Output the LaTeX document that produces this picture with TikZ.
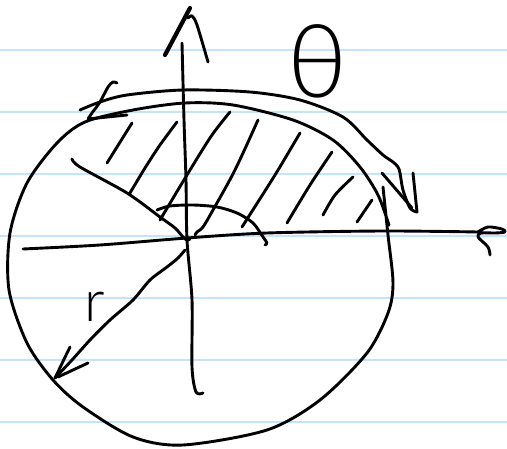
\documentclass[tikz,border=0pt]{standalone}
\usepackage{fontspec}
\newfontfamily\hand{Lato Light}
\definecolor{ruled}{RGB}{198,228,248}
\begin{document}
\begin{tikzpicture}[x=1pt,y=-1pt,
  pen/.style={line width=2.9pt,line cap=round,line join=round},
  rule/.style={ruled,line width=2pt}]
\useasboundingbox (0,0) rectangle (507,449);
\fill[white] (0,0) rectangle (507,449);
% ruled paper
\foreach \yy in {50,112,174,236,298,360,422}
  \draw[rule] (0,\yy) -- (507,\yy);
% hatching
\draw[pen] (132,123) -- (107,163);
\draw[pen] plot[smooth] coordinates {(177,122) (160,145) (145,168) (130,193)};
\draw[pen] plot[smooth] coordinates {(230,112) (212,135) (190,170) (160,220)};
\draw[pen] plot[smooth] coordinates {(258,120) (235,170) (213,210) (203,227) (197,232) (195,235)};
\draw[pen] plot[smooth] coordinates {(300,133) (275,175) (242,227)};
\draw[pen] plot[smooth] coordinates {(332,152) (310,185) (287,223)};
\draw[pen] plot[smooth] coordinates {(353,177) (335,195) (323,215)};
\draw[pen] (372,200) -- (357,222);
% big circle
\draw[pen] plot[smooth] coordinates {(383,187) (388,235) (393,283) (388,313) (367,353) (320,400) (267,430) (183,445) (133,437) (83,407) (53,380) (27,343) (9,290) (10,233) (27,183) (57,143) (85,122) (133,110) (185,103) (233,105) (293,120) (333,140) (360,167) (378,195) (389,225)};
% horizontal axis
\draw[pen] plot[smooth] coordinates {(23,249) (100,245) (187,238) (267,233) (383,231) (478,232)};
\draw[pen] plot[smooth] coordinates {(478,232) (488,227) (502,229) (505,232) (495,233) (481,233) (478,237) (488,247) (490,255)};
% vertical axis
\draw[pen] plot[smooth] coordinates {(182,43) (184,120) (186,180) (187,240) (192,300) (192,367) (196,392) (203,393)};
\draw[pen,line width=4.2pt] (165,55) -- (190,8);
\draw[pen] plot[smooth] coordinates {(188,18) (192,16) (197,25) (208,62)};
% radial boundary
\draw[pen] plot[smooth] coordinates {(72,159) (80,167) (127,193) (160,217) (175,228) (183,237) (187,240) (190,239)};
% angle arc
\draw[pen] plot[smooth] coordinates {(157,210) (170,206) (193,205) (217,207) (237,213) (253,223) (263,237) (267,243) (265,245)};
% radius arrow r
\draw[pen] plot[smooth] coordinates {(185,250) (178,258) (167,267) (150,280) (133,300) (110,320) (90,340) (72,360) (55,378)};
\draw[pen] (70,347) -- (55,378);
\draw[pen] (88,363) -- (58,377);
% theta arrow
\draw[pen] plot[smooth] coordinates {(80,110) (100,102) (127,95) (183,90) (250,92) (300,100) (343,117) (367,140) (383,155) (393,162) (398,167) (400,173) (403,190) (410,208) (417,212)};
\draw[pen] (417,212) -- (413,173);
\draw[pen] (382,173) -- (412,208);
\draw[pen] plot[smooth] coordinates {(117,83) (113,82) (108,87) (100,102) (92,113) (88,119)} -- (127,115);
% labels
\node[inner sep=0pt] (theta) at (318,61) {\hand\fontsize{102}{102}\selectfont θ};
\node[inner sep=0pt] (r) at (95,307) {\hand\fontsize{58}{58}\selectfont r};
\end{tikzpicture}
\end{document}
